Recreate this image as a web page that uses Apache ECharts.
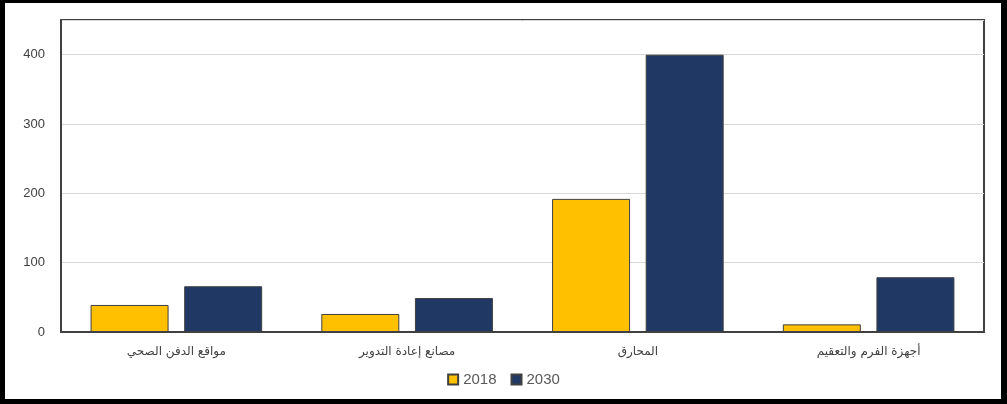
<!DOCTYPE html>
<html>
<head>
<meta charset="utf-8">
<script src="https://cdn.jsdelivr.net/npm/echarts@6/dist/echarts.min.js"></script>
<style>
  html, body { margin: 0; padding: 0; background: #fff; }
  #wrap { position: relative; width: 1007px; height: 404px; }
  #myChart { position: absolute; left: 0; top: 0; width: 1007px; height: 404px; }
  #frame { position: absolute; left: 0; top: 0; width: 1007px; height: 404px; box-sizing: border-box;
           border-style: solid; border-color: #000; border-width: 3px 6px 5px 5px; pointer-events: none; }
</style>
</head>
<body>
<div id="wrap">
  <div id="myChart"></div>
  <div id="frame"></div>
</div>
<script>
  // categories, left to right as in the picture
  const categories = ['مواقع الدفن الصحي', 'مصانع إعادة التدوير', 'المحارق', 'أجهزة الفرم والتعقيم'];
  const values2018 = [39, 26, 192, 11];
  const values2030 = [66, 49, 400, 79];
  const yTicks = [0, 100, 200, 300, 400];

  let myChart = echarts.init(document.getElementById('myChart'));

  myChart.setOption({
    animation: false,
    grid: {
      left: 61,
      right: 23,
      top: 20,
      bottom: 72,
      show: true,
      borderColor: '#404040',
      borderWidth: 2,
      backgroundColor: 'transparent'
    },
    legend: {
      bottom: 12,
      left: 'center',
      icon: 'rect',
      itemWidth: 10,
      itemHeight: 10,
      itemGap: 14,
      textStyle: {
        color: '#595959',
        fontSize: 15,
        fontFamily: 'Liberation Sans'
      },
      data: ['2018', '2030']
    },
    xAxis: {
      type: 'category',
      data: categories,
      axisTick: { show: false },
      axisLine: { show: true, lineStyle: { color: '#404040', width: 2 } },
      axisLabel: {
        color: '#404040',
        fontSize: 12,
        fontFamily: 'DejaVu Sans',
        margin: 14
      }
    },
    yAxis: {
      type: 'value',
      min: 0,
      max: 450,
      interval: 100,
      axisLine: { show: true, lineStyle: { color: '#404040', width: 2 } },
      axisTick: { show: false },
      splitLine: { show: true, lineStyle: { color: '#d9d9d9', width: 1 } },
      axisLabel: {
        color: '#404040',
        fontSize: 13,
        fontFamily: 'Liberation Sans',
        margin: 16,
        showMaxLabel: false,
        formatter: function (v) { return yTicks.indexOf(v) >= 0 ? String(v) : ''; }
      }
    },
    series: [
      {
        name: '2018',
        type: 'bar',
        data: values2018,
        barWidth: 78,
        barGap: '20%',
        itemStyle: { color: '#FFC000', borderColor: '#404040', borderWidth: 1 }
      },
      {
        name: '2030',
        type: 'bar',
        data: values2030,
        barWidth: 78,
        barGap: '20%',
        itemStyle: { color: '#203864', borderColor: '#404040', borderWidth: 1 }
      }
    ]
  });
</script>
</body>
</html>
